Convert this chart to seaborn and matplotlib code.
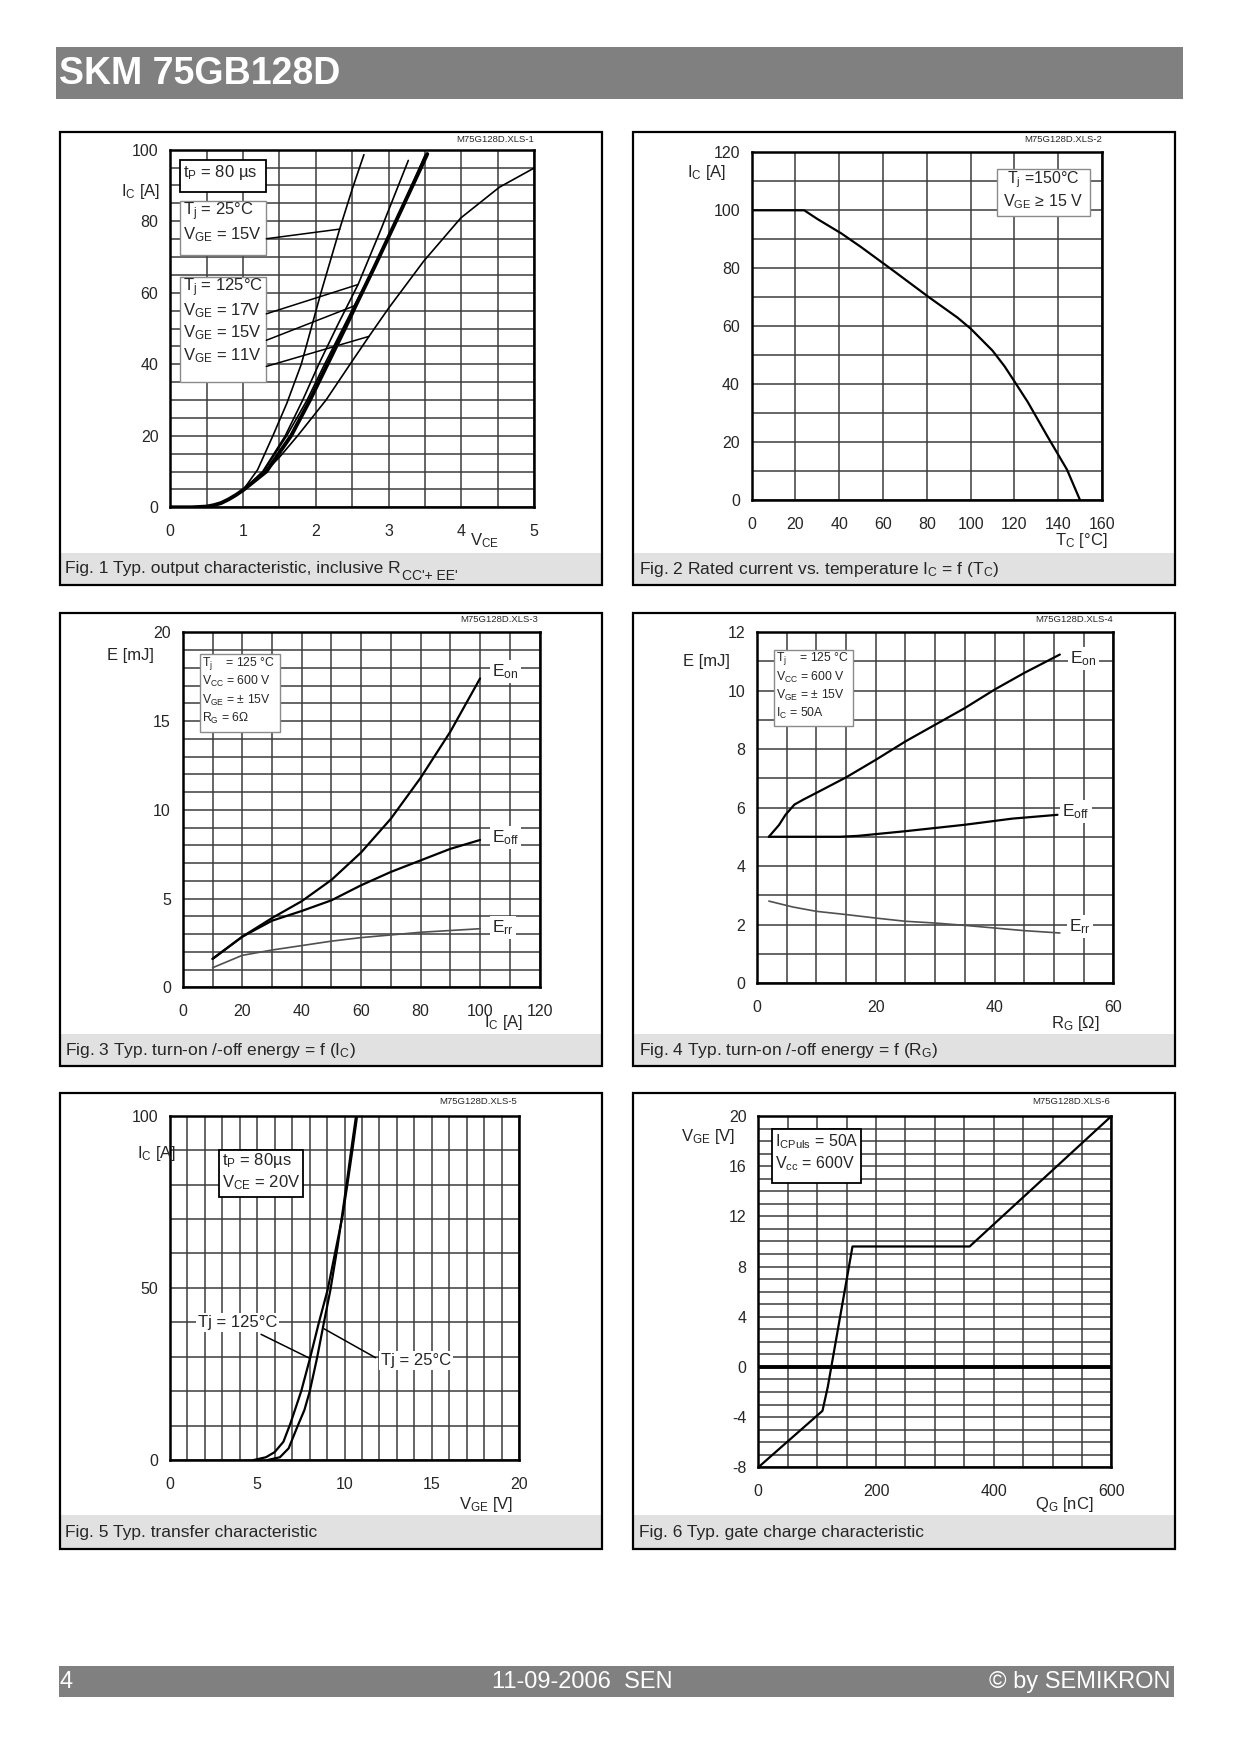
import numpy as np
import pandas as pd
import matplotlib
matplotlib.use("Agg")
import matplotlib.pyplot as plt
import seaborn as sns
from matplotlib.patches import Rectangle

# ---------------- data ----------------
# Fig. 1 output characteristic
vce_25c_15v = [0, 0.3, 0.5, 0.6, 0.7, 0.8, 0.9, 1.0, 1.2, 1.41, 1.6, 1.8, 2.07, 2.33, 2.5, 2.66]
ic_25c_15v = [0, 0, 0.2, 0.6, 1.2, 2.2, 3.4, 4.8, 10.5, 20, 29, 40, 60, 78, 89, 98.6]
vce_125c_17v = [0, 0.3, 0.5, 0.6, 0.7, 0.8, 0.9, 1.0, 1.27, 1.58, 1.82, 2.04, 2.3, 2.58, 2.9, 3.27]
ic_125c_17v = [0, 0, 0.2, 0.6, 1.2, 2.2, 3.4, 4.8, 10, 20, 30, 40, 51, 62.3, 78, 97]
vce_125c_15v = [0, 0.3, 0.5, 0.6, 0.7, 0.8, 0.9, 1.0, 1.32, 1.66, 1.92, 2.16, 2.4, 2.55, 2.8, 3.1, 3.53]
ic_125c_15v = [0, 0, 0.2, 0.6, 1.2, 2.2, 3.4, 4.8, 10, 20, 30, 40, 50, 56.5, 67, 80, 98.8]
vce_25c_thin = [0, 0.3, 0.5, 0.6, 0.7, 0.8, 0.9, 1.0, 1.28, 1.6, 1.88, 2.12, 2.42, 2.72, 3.08, 3.5]
ic_25c_thin = [0, 0, 0.2, 0.6, 1.2, 2.2, 3.4, 4.8, 10, 20, 30, 40, 52, 64, 79, 98.5]
vce_125c_11v = [0, 0.3, 0.5, 0.6, 0.7, 0.8, 0.9, 1.01, 1.22, 1.5, 1.75, 2.14, 2.47, 2.73, 3.0, 3.48, 3.99, 4.52, 5.0]
ic_125c_11v = [0, 0, 0.2, 0.6, 1.2, 2.2, 3.4, 4.7, 8.2, 14, 20, 30, 40, 47.8, 55.7, 68.8, 80.9, 89.5, 94.9]

# Fig. 2 rated current vs case temperature
tc = [0, 24, 30, 41, 50, 65, 81, 94, 100, 110, 115.5, 120, 126, 135.5, 144, 150]
ic_rated = [100, 100, 97, 92, 87.3, 79, 70, 63, 59.2, 51.6, 46.2, 41, 34, 21.5, 10.6, 0]

# Fig. 3 switching energy vs collector current
ic_sw = [10, 20, 30, 40, 50, 60, 70, 80, 90, 100]
eon_ic = [1.6, 2.85, 3.9, 4.85, 6.05, 7.6, 9.5, 11.8, 14.4, 17.4]
eoff_ic = [1.6, 2.85, 3.75, 4.3, 4.9, 5.75, 6.5, 7.15, 7.8, 8.3]
err_ic = [1.1, 1.8, 2.1, 2.35, 2.6, 2.8, 2.95, 3.1, 3.2, 3.3]

# Fig. 4 switching energy vs gate resistance
rg_on = [2, 3.7, 4.8, 6.3, 7.8, 10, 15, 20, 25, 30, 35, 40, 45, 51]
eon_rg = [5.0, 5.4, 5.75, 6.1, 6.27, 6.5, 7.03, 7.63, 8.26, 8.83, 9.4, 10.03, 10.6, 11.23]
rg_off = [2, 14, 17, 25, 35, 43, 50.6]
eoff_rg = [5.0, 5.0, 5.03, 5.19, 5.41, 5.62, 5.75]
rg_rr = [2, 6, 10, 15, 20, 25, 30, 35, 40, 45, 51]
err_rg = [2.8, 2.6, 2.45, 2.34, 2.22, 2.11, 2.05, 1.97, 1.88, 1.79, 1.71]

# Fig. 5 transfer characteristic
vge_125c = [4.8, 5.5, 6.0, 6.5, 6.9, 7.52, 8.02, 8.52, 9.03, 9.53, 9.88, 10.17, 10.45, 10.72]
ic_tr_125c = [0, 0.8, 2.3, 5.3, 10.6, 20, 29.5, 39.7, 49.4, 62, 70.7, 80.3, 90, 100]
vge_25c = [5.6, 6.3, 6.8, 7.3, 7.7, 8.0, 8.42, 8.81, 9.19, 9.6, 9.85, 10.12, 10.38, 10.66]
ic_tr_25c = [0, 0.8, 3.4, 9.7, 14.5, 19.8, 29.5, 39.7, 49.4, 62, 70.7, 80.3, 90, 100]

# Fig. 6 gate charge
qg = [0, 109, 118, 160, 359, 600]
vge_qg = [-8, -3.5, -1.6, 9.6, 9.6, 20]

captions = [
    None,
    "Fig. 2 Rated current vs. temperature I$_C$ = f (T$_C$)",
    "Fig. 3 Typ. turn-on /-off energy = f (I$_C$)",
    "Fig. 4 Typ. turn-on /-off energy = f (R$_G$)",
    "Fig. 5 Typ. transfer characteristic",
    "Fig. 6 Typ. gate charge characteristic",
]

# ---------------- page setup ----------------
sns.set_style("white")
plt.rcParams['font.family'] = ['Liberation Sans', 'DejaVu Sans']
plt.rcParams['mathtext.default'] = 'regular'
plt.rcParams['axes.unicode_minus'] = False

W, H = 1240, 1754
fig = plt.figure(figsize=(W / 100, H / 100), dpi=100)
GRID = '#3c3c3c'


def fx(x):
    return x / W


def fy(y):
    return 1 - y / H


def page_rect(x0, y0, x1, y1, **kw):
    fig.add_artist(Rectangle((fx(x0), fy(y1)), (x1 - x0) / W, (y1 - y0) / H,
                             transform=fig.transFigure, **kw))


def make_ax(x0, y0, x1, y1):
    return fig.add_axes([fx(x0), fy(y1), (x1 - x0) / W, (y1 - y0) / H])


def style(ax, xlim, ylim, xmaj, ymaj, xmin=None, ymin=None):
    ax.set_xlim(*xlim)
    ax.set_ylim(*ylim)
    ax.set_xticks(xmaj)
    ax.set_yticks(ymaj)
    if xmin is not None:
        ax.set_xticks(xmin, minor=True)
    if ymin is not None:
        ax.set_yticks(ymin, minor=True)
    ax.grid(which='both', color=GRID, lw=1.1)
    ax.set_axisbelow(True)
    ax.tick_params(axis='x', which='both', length=0, pad=12, labelsize=11.5)
    ax.tick_params(axis='y', which='both', length=5, width=1.0, color=GRID,
                   direction='out', pad=3.5, labelsize=11.5)
    for s in ax.spines.values():
        s.set_linewidth(1.8)
        s.set_color('black')
    ax.set_xlabel('')
    ax.set_ylabel('')


def curve(ax, x, y, lw=1.5, color='black'):
    sns.lineplot(x=x, y=y, ax=ax, sort=False, estimator=None, color=color, lw=lw, zorder=4)


def note_box(ax, x0, y0, x1, y1, ec):
    ax.add_patch(Rectangle((x0, y0), x1 - x0, y1 - y0, fc='white', ec=ec,
                           lw=1.3 if ec == 'black' else 1.0, zorder=3))


def label(ax, x, y, s, size=12.5, **kw):
    ax.text(x, y, s, fontsize=size, va='center', ha=kw.pop('ha', 'left'), zorder=5,
            clip_on=False, **kw)


# header / footer bands
page_rect(56, 47, 1183, 99, fc='#808080', ec='none')
fig.text(fx(59), fy(74), "SKM 75GB128D", color='white', fontsize=27, fontweight='bold',
         va='center', ha='left')
page_rect(59, 1666, 1174, 1697, fc='#808080', ec='none')
fig.text(fx(60), fy(1682), "4", color='white', fontsize=17, va='center', ha='left')
fig.text(fx(582), fy(1682), "11-09-2006  SEN", color='white', fontsize=17, va='center', ha='center')
fig.text(fx(1170), fy(1682), "© by SEMIKRON", color='white', fontsize=17, va='center', ha='right')

# panel frames + caption bands
cols = [(59.5, 601.6), (633.3, 1174.5)]
rows = [(132, 585.3, 553), (613, 1066, 1034), (1093, 1549, 1515)]
for r, (top, bot, cap) in enumerate(rows):
    for c, (left, right) in enumerate(cols):
        page_rect(left, cap, right, bot, fc='#e1e1e1', ec='none')
        page_rect(left, top, right, bot, fill=False, ec='black', lw=1.6)
        n = r * 2 + c
        if captions[n] is not None:
            fig.text(fx(left + 5.5), fy((cap + bot) / 2), captions[n], fontsize=12.5,
                     va='center', ha='left')

# caption 1 with its low-set subscript
renderer = fig.canvas.get_renderer()
t1 = fig.text(fx(65), fy(568), "Fig. 1 Typ. output characteristic, inclusive R",
              fontsize=12.5, va='center', ha='left')
w1 = t1.get_window_extent(renderer).width
fig.text(fx(65 + w1 + 1), fy(576), "CC'+ EE'", fontsize=10, va='center', ha='left')

# file tags
tags = [(534, 140), (1102, 140), (538, 620), (1113, 620), (517, 1101), (1110, 1101)]
for i, (xr, yt) in enumerate(tags):
    fig.text(fx(xr), fy(yt), f"M75G128D.XLS-{i + 1}", fontsize=6.8, ha='right', va='center')

# ---------------- Fig. 1 ----------------
ax1 = make_ax(170.2, 149.7, 534.3, 507.3)
curve(ax1, vce_25c_15v, ic_25c_15v, lw=1.2)
curve(ax1, vce_125c_17v, ic_125c_17v, lw=1.2)
curve(ax1, vce_25c_thin, ic_25c_thin, lw=1.2)
curve(ax1, vce_125c_15v, ic_125c_15v, lw=2.8)
curve(ax1, vce_125c_11v, ic_125c_11v, lw=1.2)
style(ax1, (0, 5), (0, 100), range(0, 6), range(0, 101, 20),
      np.arange(0, 5.01, 0.5), range(0, 101, 5))
note_box(ax1, 0.14, 88.2, 1.32, 97, 'black')
note_box(ax1, 0.14, 70.5, 1.32, 85.6, '#8a8a8a')
note_box(ax1, 0.14, 35, 1.32, 64.4, '#8a8a8a')
label(ax1, 0.17, 93.6, "t$_P$ = 80 µs", size=12)
label(ax1, 0.17, 82.6, "T$_j$ = 25°C", size=12)
label(ax1, 0.17, 76.2, "V$_{GE}$ = 15V", size=12)
label(ax1, 0.17, 61.3, "T$_j$ = 125°C", size=12)
label(ax1, 0.17, 55.0, "V$_{GE}$ = 17V", size=12)
label(ax1, 0.17, 48.7, "V$_{GE}$ = 15V", size=12)
label(ax1, 0.17, 42.4, "V$_{GE}$ = 11V", size=12)
leaders1 = [((1.32, 2.33), (75.1, 77.8)), ((1.32, 2.58), (54.1, 62.3)),
            ((1.32, 2.55), (46.7, 56.5)), ((1.32, 2.73), (39.4, 47.8))]
for lx, ly in leaders1:
    ax1.plot(lx, ly, color='black', lw=1.1, zorder=4)
label(ax1, -0.14, 88.3, "I$_C$ [A]", size=12, ha='right')
label(ax1, 4.12, -9.4, "V$_{CE}$", size=12)

# ---------------- Fig. 2 ----------------
ax2 = make_ax(751.7, 152.3, 1102, 500.3)
curve(ax2, tc, ic_rated, lw=1.6)
style(ax2, (0, 160), (0, 120), range(0, 161, 20), range(0, 121, 20), None, range(0, 121, 10))
note_box(ax2, 112, 97.9, 154.4, 114.4, '#8a8a8a')
label(ax2, 133, 110.4, "T$_j$ =150°C", size=11.5, ha='center')
label(ax2, 133, 103.0, "V$_{GE}$ ≥ 15 V", size=11.5, ha='center')
label(ax2, -11.7, 112.9, "I$_C$ [A]", size=12, ha='right')
label(ax2, 162.5, -14, "T$_C$ [°C]", size=12, ha='right')

# ---------------- Fig. 3 ----------------
ax3 = make_ax(182.8, 632.3, 539.5, 987.3)
curve(ax3, ic_sw, eon_ic, lw=1.6)
curve(ax3, ic_sw, eoff_ic, lw=1.6)
curve(ax3, ic_sw, err_ic, lw=1.2, color='#505050')
style(ax3, (0, 120), (0, 20), range(0, 121, 20), range(0, 21, 5),
      range(0, 121, 10), range(0, 21, 1))
note_box(ax3, 5.7, 14.4, 32.8, 18.76, '#8a8a8a')
label(ax3, 6.3, 18.25, "T$_j$    = 125 °C", size=8.8)
label(ax3, 6.3, 17.22, "V$_{CC}$ = 600 V", size=8.8)
label(ax3, 6.3, 16.18, "V$_{GE}$ = ± 15V", size=8.8)
label(ax3, 6.3, 15.15, "R$_G$ = 6Ω", size=8.8)
wb = dict(fc='white', ec='none', pad=1.5)
label(ax3, 104, 17.8, "E$_{on}$", bbox=wb)
label(ax3, 104, 8.42, "E$_{off}$", bbox=wb)
label(ax3, 104, 3.38, "E$_{rr}$", bbox=wb)
label(ax3, -9.7, 18.7, "E [mJ]", size=12, ha='right')
label(ax3, 101.4, -2.0, "I$_C$ [A]", size=12)

# ---------------- Fig. 4 ----------------
ax4 = make_ax(757, 632, 1113.3, 983)
curve(ax4, rg_on, eon_rg, lw=1.6)
curve(ax4, rg_off, eoff_rg, lw=1.6)
curve(ax4, rg_rr, err_rg, lw=1.2, color='#505050')
style(ax4, (0, 60), (0, 12), range(0, 61, 20), range(0, 13, 2),
      range(0, 61, 5), range(0, 13, 1))
note_box(ax4, 2.8, 8.77, 16.2, 11.4, '#8a8a8a')
label(ax4, 3.2, 11.08, "T$_j$    = 125 °C", size=8.8)
label(ax4, 3.2, 10.46, "V$_{CC}$ = 600 V", size=8.8)
label(ax4, 3.2, 9.84, "V$_{GE}$ = ± 15V", size=8.8)
label(ax4, 3.2, 9.21, "I$_C$ = 50A", size=8.8)
label(ax4, 52.7, 11.1, "E$_{on}$", bbox=wb)
label(ax4, 51.4, 5.87, "E$_{off}$", bbox=wb)
label(ax4, 52.6, 1.94, "E$_{rr}$", bbox=wb)
label(ax4, -4.5, 11.0, "E [mJ]", size=12, ha='right')
label(ax4, 49.5, -1.37, "R$_G$ [Ω]", size=12)

# ---------------- Fig. 5 ----------------
ax5 = make_ax(169.9, 1115.7, 519.2, 1460)
curve(ax5, vge_125c, ic_tr_125c, lw=1.6)
curve(ax5, vge_25c, ic_tr_25c, lw=1.6)
style(ax5, (0, 20), (0, 100), range(0, 21, 5), range(0, 101, 50),
      range(0, 21, 1), range(0, 101, 10))
note_box(ax5, 2.8, 76.5, 7.6, 90, 'black')
label(ax5, 3.0, 86.9, "t$_P$ = 80µs", size=12)
label(ax5, 3.0, 80.6, "V$_{CE}$ = 20V", size=12)
label(ax5, 1.6, 40.0, "Tj = 125°C", size=12, bbox=wb)
label(ax5, 12.1, 28.8, "Tj = 25°C", size=12, bbox=wb)
leaders5 = [((5.22, 8.02), (36.5, 29.5)), ((8.83, 11.78), (38.1, 29.7))]
for lx, ly in leaders5:
    ax5.plot(lx, ly, color='black', lw=1.1, zorder=4)
label(ax5, -1.9, 89, "I$_C$ [A]", size=12)
label(ax5, 16.55, -13, "V$_{GE}$ [V]", size=12)

# ---------------- Fig. 6 ----------------
ax6 = make_ax(758.3, 1116, 1111.5, 1467.3)
curve(ax6, qg, vge_qg, lw=1.6)
style(ax6, (0, 600), (-8, 20), range(0, 601, 200), range(-8, 21, 4),
      range(0, 601, 50), range(-8, 21, 1))
ax6.axhline(0, color='black', lw=2.8, zorder=3)
note_box(ax6, 22.6, 14.63, 174.4, 18.94, 'black')
label(ax6, 28.6, 17.95, "I$_{CPuls}$ = 50A", size=11.5)
label(ax6, 28.6, 16.2, "V$_{cc}$ = 600V", size=11.5)
label(ax6, -39.6, 18.35, "V$_{GE}$ [V]", size=12, ha='right')
label(ax6, 470, -11, "Q$_G$ [nC]", size=12)

fig.savefig("out.png", dpi=100, facecolor='white')
